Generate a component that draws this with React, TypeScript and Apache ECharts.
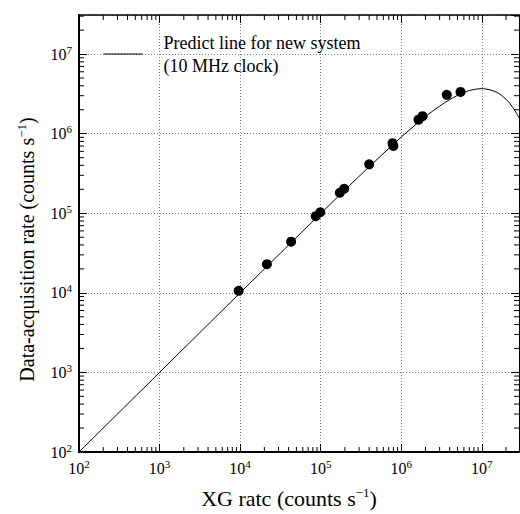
import React, { useEffect, useRef } from "react";
import * as echarts from "echarts";

// Predicted curve
const curveX = [1e2, 1e3, 1e4, 1e5, 3e5, 1e6, 2e6, 3e6, 4e6, 5e6, 7e6, 1e7, 1.5e7, 2e7, 2.5e7, 3e7];
const curveY = [1e2, 1e3, 9.99e3, 9.9e4, 2.91e5, 9.05e5, 1.64e6, 2.22e6, 2.68e6, 3.03e6, 3.48e6, 3.68e6, 3.35e6, 2.71e6, 2.05e6, 1.49e6];

// Measured points
const pointX = [9.6e3, 2.15e4, 4.3e4, 8.7e4, 9.9e4, 1.73e5, 1.96e5, 4.0e5, 7.8e5, 8.0e5, 1.64e6, 1.84e6, 3.68e6, 5.45e6];
const pointY = [1.06e4, 2.29e4, 4.4e4, 9.2e4, 1.03e5, 1.81e5, 2.03e5, 4.12e5, 7.6e5, 7.0e5, 1.5e6, 1.66e6, 3.08e6, 3.35e6];

const decadeExponents = [2, 3, 4, 5, 6, 7];
const minorFactors = [2, 3, 4, 5, 6, 7, 8, 9];

const xMin = 1e2;
const xMax = 2.9e7;
const yMin = 1e2;
const yMax = 3.1e7;

const seriesName = "Predict line for new system";
const legendLines = ["Predict line for new system", "(10 MHz clock)"];
const xNameParts = ["XG ratc (counts s", "\u22121", ")"];
const yNameParts = ["Data-acquisition rate (counts s", "\u22121", ")"];

const FONT = "Liberation Serif";

export default function App() {
  const ref = useRef<HTMLDivElement>(null);

  useEffect(() => {
    document.body.style.margin = "0";
    const chart = echarts.init(ref.current as HTMLDivElement, null, { renderer: "svg" });

    const minorXVals: number[] = [];
    const minorYVals: number[] = [];
    decadeExponents.forEach((e) => {
      minorFactors.forEach((f) => {
        const v = f * Math.pow(10, e);
        if (v > xMin && v < xMax) minorXVals.push(v);
        if (v > yMin && v < yMax) minorYVals.push(v);
      });
    });

    const tickLabel = {
      fontFamily: FONT,
      fontSize: 16,
      color: "#000",
      formatter: (v: number) => `{b|10}{s|${Math.round(Math.log10(v))}}`,
      rich: {
        b: { fontFamily: FONT, fontSize: 16, color: "#000", lineHeight: 20 },
        s: { fontFamily: FONT, fontSize: 11, color: "#000", lineHeight: 12, verticalAlign: "top" },
      },
      showMaxLabel: false,
    };

    const nameRich = (size: number) => ({
      n: { fontFamily: FONT, fontSize: size, color: "#000", lineHeight: 24 },
      s: { fontFamily: FONT, fontSize: 13, color: "#000", lineHeight: 14, verticalAlign: "top" },
    });

    const split = { show: true, lineStyle: { color: "#808080", type: [1, 2], width: 1 } };

    const tickSeries = (data: number[][], size: number[], offset: number[]) => ({
      type: "scatter",
      data,
      symbol: "rect",
      symbolSize: size,
      symbolOffset: offset,
      itemStyle: { color: "#000", opacity: 1 },
      silent: true,
      clip: false,
      z: 5,
    });

    const option: any = {
      animation: false,
      grid: { left: 79, top: 15, width: 440, height: 442 },
      legend: {
        left: 103,
        top: 28,
        padding: 0,
        itemWidth: 39,
        itemHeight: 10,
        data: [seriesName],
        formatter: () => legendLines.join("\n"),
        itemStyle: { opacity: 0 },
        lineStyle: { width: 1, color: "#000" },
        textStyle: {
          fontFamily: FONT,
          fontSize: 18,
          lineHeight: 23,
          color: "#000",
          padding: [6, 0, 0, 16],
        },
      },
      xAxis: [
        {
          type: "log",
          logBase: 10,
          min: xMin,
          max: xMax,
          position: "bottom",
          axisLine: { lineStyle: { color: "#000", width: 2 } },
          axisTick: { inside: true, length: 8, lineStyle: { color: "#000" } },
          axisLabel: { ...tickLabel, margin: 6 },
          splitLine: split,
          name: `{n|${xNameParts[0]}}{s|${xNameParts[1]}}{n|${xNameParts[2]}}`,
          nameLocation: "middle",
          nameGap: 34,
          nameTextStyle: { fontFamily: FONT, rich: nameRich(22), padding: [0, 20, 0, 0] },
        },
        {
          type: "log",
          logBase: 10,
          min: xMin,
          max: xMax,
          position: "top",
          axisLine: { lineStyle: { color: "#000", width: 1.5 } },
          axisTick: { inside: true, length: 8, lineStyle: { color: "#000" } },
          axisLabel: { show: false },
          splitLine: { show: false },
        },
      ],
      yAxis: [
        {
          type: "log",
          logBase: 10,
          min: yMin,
          max: yMax,
          position: "left",
          axisLine: { lineStyle: { color: "#000", width: 2 } },
          axisTick: { inside: true, length: 8, lineStyle: { color: "#000" } },
          axisLabel: { ...tickLabel, margin: 7 },
          splitLine: split,
          name: `{n|${yNameParts[0]}}{s|${yNameParts[1]}}{n|${yNameParts[2]}}`,
          nameLocation: "middle",
          nameRotate: 90,
          nameGap: 40,
          nameTextStyle: { fontFamily: FONT, rich: nameRich(20), padding: [0, 32, 0, 0] },
        },
        {
          type: "log",
          logBase: 10,
          min: yMin,
          max: yMax,
          position: "right",
          axisLine: { lineStyle: { color: "#000", width: 1 } },
          axisTick: { inside: true, length: 8, lineStyle: { color: "#000" } },
          axisLabel: { show: false },
          splitLine: { show: false },
        },
      ],
      series: [
        {
          name: seriesName,
          type: "line",
          data: curveX.map((x, i) => [x, curveY[i]]),
          symbol: "none",
          smooth: 0.3,
          lineStyle: { color: "#000", width: 1 },
          itemStyle: { color: "#000" },
          z: 3,
        },
        {
          name: "measured",
          type: "scatter",
          data: pointX.map((x, i) => [x, pointY[i]]),
          symbol: "circle",
          symbolSize: 10,
          itemStyle: { color: "#000", opacity: 1 },
          z: 4,
        },
        tickSeries(minorXVals.map((v) => [v, yMin]), [1, 5], [0, -2.5]),
        tickSeries(minorXVals.map((v) => [v, yMax]), [1, 5], [0, 2.5]),
        tickSeries(minorYVals.map((v) => [xMin, v]), [5, 1], [2.5, 0]),
        tickSeries(minorYVals.map((v) => [xMax, v]), [5, 1], [-2.5, 0]),
      ],
    };

    chart.setOption(option);
    return () => chart.dispose();
  }, []);

  return <div ref={ref} style={{ width: 520, height: 514 }} />;
}
